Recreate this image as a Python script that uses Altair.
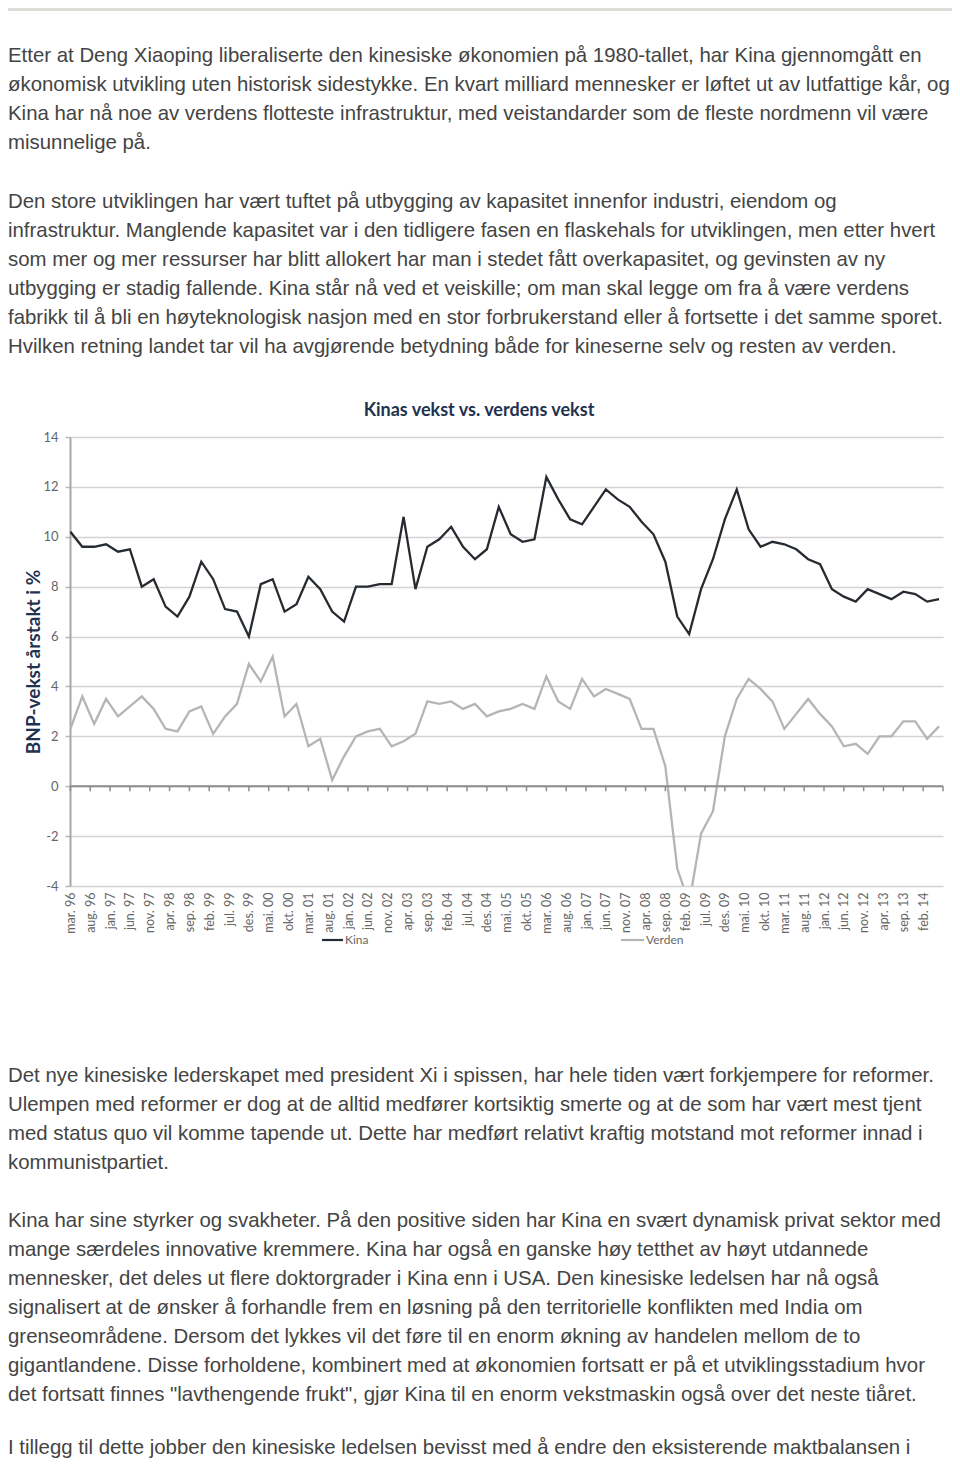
import altair as alt
import pandas as pd

# ---------------- data ----------------
x_labels = ["mar. 96", "aug. 96", "jan. 97", "jun. 97", "nov. 97", "apr. 98", "sep. 98", "feb. 99",
            "jul. 99", "des. 99", "mai. 00", "okt. 00", "mar. 01", "aug. 01", "jan. 02", "jun. 02",
            "nov. 02", "apr. 03", "sep. 03", "feb. 04", "jul. 04", "des. 04", "mai. 05", "okt. 05",
            "mar. 06", "aug. 06", "jan. 07", "jun. 07", "nov. 07", "apr. 08", "sep. 08", "feb. 09",
            "jul. 09", "des. 09", "mai. 10", "okt. 10", "mar. 11", "aug. 11", "jan. 12", "jun. 12",
            "nov. 12", "apr. 13", "sep. 13", "feb. 14"]

kina = [10.2, 9.6, 9.6, 9.7, 9.4, 9.5, 8.0, 8.3, 7.2, 6.8,
        7.6, 9.0, 8.3, 7.1, 7.0, 6.0, 8.1, 8.3, 7.0, 7.3,
        8.4, 7.9, 7.0, 6.6, 8.0, 8.0, 8.1, 8.1, 10.8, 7.9,
        9.6, 9.9, 10.4, 9.6, 9.1, 9.5, 11.2, 10.1, 9.8, 9.9,
        12.4, 11.5, 10.7, 10.5, 11.2, 11.9, 11.5, 11.2, 10.6, 10.1,
        9.0, 6.8, 6.1, 7.9, 9.1, 10.7, 11.9, 10.3, 9.6, 9.8,
        9.7, 9.5, 9.1, 8.9, 7.9, 7.6, 7.4, 7.9, 7.7, 7.5,
        7.8, 7.7, 7.4, 7.5]

verden = [2.3, 3.6, 2.5, 3.5, 2.8, 3.2, 3.6, 3.1, 2.3, 2.2,
          3.0, 3.2, 2.1, 2.8, 3.3, 4.9, 4.2, 5.2, 2.8, 3.3,
          1.6, 1.9, 0.25, 1.2, 2.0, 2.2, 2.3, 1.6, 1.8, 2.1,
          3.4, 3.3, 3.4, 3.1, 3.3, 2.8, 3.0, 3.1, 3.3, 3.1,
          4.4, 3.4, 3.1, 4.3, 3.6, 3.9, 3.7, 3.5, 2.3, 2.3,
          0.8, -3.3, -4.7, -1.9, -1.0, 2.0, 3.5, 4.3, 3.9, 3.4,
          2.3, 2.9, 3.5, 2.9, 2.4, 1.6, 1.7, 1.3, 2.0, 2.0,
          2.6, 2.6, 1.9, 2.4]

series_names = ["Kina", "Verden"]
y_ticks = [-4, -2, 0, 2, 4, 6, 8, 10, 12, 14]

chart_title = "Kinas vekst vs. verdens vekst"
y_title = "BNP-vekst årstakt i %"

para1 = [
    "Etter at Deng Xiaoping liberaliserte den kinesiske økonomien på 1980-tallet, har Kina gjennomgått en",
    "økonomisk utvikling uten historisk sidestykke. En kvart milliard mennesker er løftet ut av lutfattige kår, og",
    "Kina har nå noe av verdens flotteste infrastruktur, med veistandarder som de fleste nordmenn vil være",
    "misunnelige på.",
]
para2 = [
    "Den store utviklingen har vært tuftet på utbygging av kapasitet innenfor industri, eiendom og",
    "infrastruktur. Manglende kapasitet var i den tidligere fasen en flaskehals for utviklingen, men etter hvert",
    "som mer og mer ressurser har blitt allokert har man i stedet fått overkapasitet, og gevinsten av ny",
    "utbygging er stadig fallende.  Kina står nå ved et veiskille; om man skal legge om fra å være verdens",
    "fabrikk til å bli en høyteknologisk nasjon med en stor forbrukerstand eller å fortsette i det samme sporet.",
    "Hvilken retning landet tar vil ha avgjørende betydning både for kineserne selv og resten av verden.",
]
para3 = [
    "Det nye kinesiske lederskapet med president Xi i spissen, har hele tiden vært forkjempere for reformer.",
    "Ulempen med reformer er dog at de alltid medfører kortsiktig smerte og at de som har vært mest tjent",
    "med status quo vil komme tapende ut. Dette har medført relativt kraftig motstand mot reformer innad i",
    "kommunistpartiet.",
]
para4 = [
    "Kina har sine styrker og svakheter. På den positive siden har Kina en svært dynamisk privat sektor med",
    "mange særdeles innovative kremmere. Kina har også en ganske høy tetthet av høyt utdannede",
    "mennesker, det deles ut flere doktorgrader i Kina enn i USA. Den kinesiske ledelsen har nå også",
    "signalisert at de ønsker å forhandle frem en løsning på den territorielle konflikten med India om",
    "grenseområdene. Dersom det lykkes vil det føre til en enorm økning av handelen mellom de to",
    "gigantlandene. Disse forholdene, kombinert med at økonomien fortsatt er på et utviklingsstadium hvor",
    "det fortsatt finnes \"lavthengende frukt\", gjør Kina til en enorm vekstmaskin også over det neste tiåret.",
]
para5 = [
    "I tillegg til dette jobber den kinesiske ledelsen bevisst med å endre den eksisterende maktbalansen i",
]

# ---------------- tables ----------------
months = [3 * i for i in range(len(kina))]  # quarterly observations, month offset from mar. 96
df = pd.DataFrame({
    "m": months + months,
    "v": kina + verden,
    "s": [series_names[0]] * len(kina) + [series_names[1]] * len(verden),
})
tick_m = [5 * i for i in range(len(x_labels) + 1)]
ticks_df = pd.DataFrame({"m": tick_m})
label_js = "[" + ",".join("'%s'" % l for l in x_labels) + "]"

LABEL_GRAY = "#666666"
NAVY = "#1f3350"
TEXT_GRAY = "#444444"
BODY_SIZE = 20.4

xscale = alt.Scale(domain=[-0.1, 220], nice=False, zero=False)
yscale = alt.Scale(domain=[-4, 14], nice=False, zero=False)

x_axis = alt.Axis(values=tick_m[:-1], labelExpr=label_js + "[round(datum.value/5)]",
                  labelAngle=270, ticks=False, domain=False, grid=False, labelPadding=6,
                  labelFontSize=12.5, labelColor=LABEL_GRAY, labelFont="Lato", labelOverlap=False,
                  labelFlush=False, title=None)
y_axis = alt.Axis(values=y_ticks, grid=True, gridColor="#d2d2d2", gridWidth=1.5,
                  domain=True, domainColor="#a8a8a8", domainWidth=2,
                  ticks=True, tickColor="#b8b8b8", tickSize=5, tickWidth=1.5,
                  labelPadding=7, labelFontSize=13, labelColor=LABEL_GRAY, labelFont="Lato",
                  labelFlush=False,
                  labelExpr="datum.value < 0 ? '-' + abs(datum.value) : '' + datum.value",
                  title=y_title, titleFont="Lato", titleFontSize=19, titleFontWeight="bold",
                  titleColor=NAVY, titleAngle=270, titleX=-37, titleY=224.5,
                  titleAlign="center", titleBaseline="middle")

X = alt.X("m:Q", scale=xscale, axis=x_axis)

lines = alt.Chart(df).mark_line(clip=True, strokeWidth=2.3).encode(
    x=X,
    y=alt.Y("v:Q", scale=yscale, axis=y_axis),
    color=alt.Color("s:N", scale=alt.Scale(domain=series_names, range=["#262a31", "#b5b5b5"]),
                    legend=None),
)

zero_line = alt.Chart(pd.DataFrame({"v": [0]})).mark_rule(color="#8c8c8c", strokeWidth=2).encode(
    y=alt.Y("v:Q", scale=yscale, axis=y_axis)
)
zero_ticks = alt.Chart(ticks_df).mark_rule(color="#8c8c8c", strokeWidth=1.5).encode(
    x=X, y=alt.datum(0), y2=alt.datum(-0.2)
)


def text_block(lines_, x, y, size=BODY_SIZE, font="Liberation Sans", color=TEXT_GRAY, weight="normal",
               align="left", baseline="alphabetic", lh=29):
    return alt.Chart(pd.DataFrame({"t": ["\n".join(lines_)]})).mark_text(
        align=align, baseline=baseline, lineBreak="\n", lineHeight=lh, font=font,
        fontSize=size, color=color, fontWeight=weight
    ).encode(text="t:N", x=alt.value(x), y=alt.value(y))


title_layer = text_block([chart_title], 409, -26, size=18, font="Lato", color=NAVY,
                         weight="bold", align="center", baseline="middle")

leg_kina_line = alt.Chart(pd.DataFrame({"s": [series_names[0]]})).mark_rule(
    color="#262a31", strokeWidth=2.2).encode(x=alt.value(252), x2=alt.value(273), y=alt.value(503))
leg_verd_line = alt.Chart(pd.DataFrame({"s": [series_names[1]]})).mark_rule(
    color="#b5b5b5", strokeWidth=2.2).encode(x=alt.value(551), x2=alt.value(574), y=alt.value(503))
leg_kina_txt = text_block([series_names[0]], 275, 503, size=12, font="Lato", color=LABEL_GRAY,
                          baseline="middle")
leg_verd_txt = text_block([series_names[1]], 576, 503, size=12, font="Lato", color=LABEL_GRAY,
                          baseline="middle")

top_bar = alt.Chart(pd.DataFrame({"k": [0]})).mark_rule(color="#deded8", strokeWidth=3).encode(
    x=alt.value(-62), x2=alt.value(882), y=alt.value(-427.5))

p1 = text_block(para1, -62, 62 - 437)
p2 = text_block(para2, -62, 208 - 437)
p3 = text_block(para3, -62, 1082 - 437)
p4 = text_block(para4, -62, 1227 - 437)
p5 = text_block(para5, -62, 1453.5 - 437)

chart = alt.layer(
    top_bar, p1, p2, title_layer, lines, zero_line, zero_ticks,
    leg_kina_line, leg_verd_line, leg_kina_txt, leg_verd_txt, p3, p4, p5
).properties(
    width=873, height=449,
    autosize=alt.AutoSizeParams(type="none"),
    padding={"left": 62, "top": 429, "right": 9, "bottom": 572},
    background="white",
).configure_view(stroke=None)

chart.save("out.html", embed_options={"renderer": "svg", "actions": False})
